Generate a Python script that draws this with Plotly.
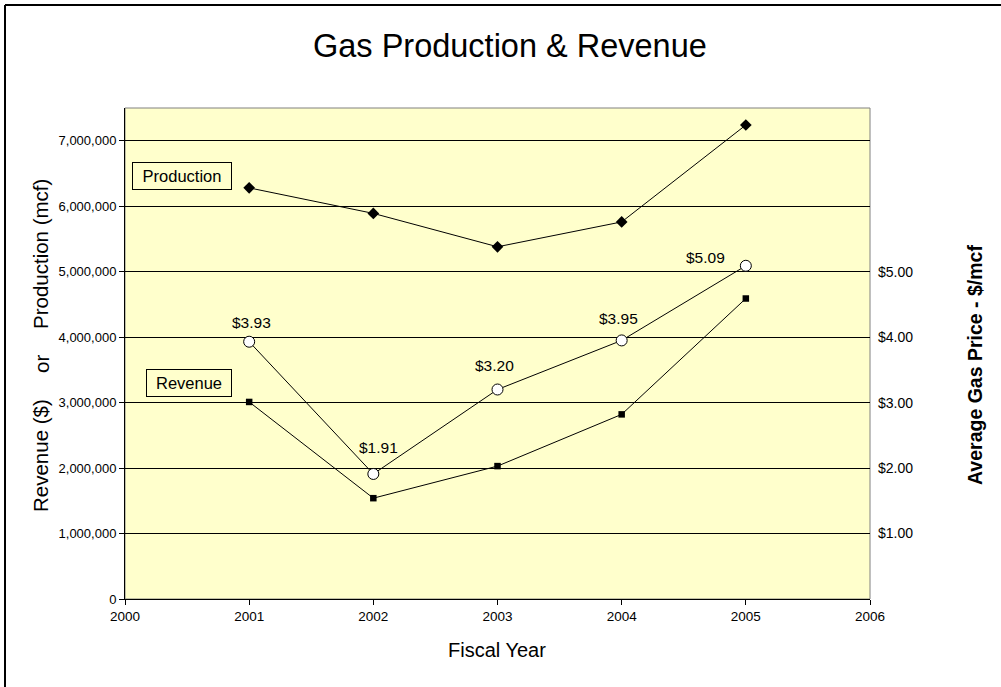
import plotly.graph_objects as go

years = [2001, 2002, 2003, 2004, 2005]
production = [6280000, 5890000, 5380000, 5760000, 7240000]
revenue = [3010000, 1540000, 2030000, 2820000, 4590000]
price = [3.93, 1.91, 3.20, 3.95, 5.09]
price_labels = ["$3.93", "$1.91", "$3.20", "$3.95", "$5.09"]
price_label_shift = [(2, 19), (5, 26), (-3, 24), (-3, 22), (-40, 8)]
right_ticks = [1, 2, 3, 4, 5]
right_tick_text = ["$1.00", "$2.00", "$3.00", "$4.00", "$5.00"]

FONT = "Liberation Sans, Arial, sans-serif"
BG = "#FFFFCC"

W, H = 1001, 687
L, R, T, B = 125, 131, 108, 88
pw, ph = W - L - R, H - T - B


def px(xp):
    return (xp - L) / pw


def py(yp):
    return (H - B - yp) / ph


fig = go.Figure()
fig.add_trace(go.Scatter(x=years, y=production, mode="lines+markers",
                         line=dict(color="black", width=1),
                         marker=dict(symbol="diamond", size=9, color="black"),
                         name="Production", showlegend=False))
fig.add_trace(go.Scatter(x=years, y=revenue, mode="lines+markers",
                         line=dict(color="black", width=1),
                         marker=dict(symbol="square", size=6.5, color="black"),
                         name="Revenue", showlegend=False))
fig.add_trace(go.Scatter(x=years, y=price, mode="lines+markers", yaxis="y2",
                         line=dict(color="black", width=1),
                         marker=dict(symbol="circle", size=11, color="white",
                                     line=dict(color="black", width=1)),
                         name="Price", showlegend=False))

C = dict(xanchor="center", yanchor="middle", showarrow=False)
annotations = []
for x, p, t, (dx, dy) in zip(years, price, price_labels, price_label_shift):
    annotations.append(dict(x=x, y=p, xref="x", yref="y2", text=t, xshift=dx, yshift=dy,
                            font=dict(family=FONT, size=15.5, color="black"), **C))
annotations.append(dict(x=px(181.7), y=py(175.5), xref="paper", yref="paper", text="Production",
                        width=96, height=24, borderpad=1,
                        bgcolor=BG, bordercolor="black", borderwidth=1,
                        font=dict(family=FONT, size=16.5, color="black"), **C))
annotations.append(dict(x=px(189), y=py(383), xref="paper", yref="paper", text="Revenue",
                        width=82, height=24, borderpad=1,
                        bgcolor=BG, bordercolor="black", borderwidth=1,
                        font=dict(family=FONT, size=16.5, color="black"), **C))
# left axis title pieces
for txt, yc in [("Revenue ($)", 456), ("or", 364), ("Production (mcf)", 254)]:
    annotations.append(dict(x=px(41), y=py(yc), xref="paper", yref="paper", text=txt,
                            textangle=-90, font=dict(family=FONT, size=20.5, color="black"), **C))
annotations.append(dict(x=px(975), y=py(365), xref="paper", yref="paper",
                        text="<b>Average Gas Price - $/mcf</b>", textangle=-90,
                        font=dict(family=FONT, size=19.5, color="black"), **C))
annotations.append(dict(x=px(497), y=py(650), xref="paper", yref="paper", text="Fiscal Year",
                        font=dict(family=FONT, size=20, color="black"), **C))
annotations.append(dict(x=px(510), y=py(46), xref="paper", yref="paper",
                        text="Gas Production & Revenue",
                        font=dict(family=FONT, size=32.5, color="black"), **C))

shapes = [
    dict(type="rect", xref="paper", yref="paper", x0=0, y0=0, x1=1, y1=1,
         line=dict(color="#808080", width=1), layer="below", fillcolor=BG),
    dict(type="line", xref="paper", yref="paper", x0=px(5), x1=px(5),
         y0=py(5), y1=py(700), line=dict(color="black", width=2)),
    dict(type="line", xref="paper", yref="paper", x0=px(5), x1=px(1010),
         y0=py(5), y1=py(5), line=dict(color="black", width=2)),
]

fig.update_layout(
    width=W, height=H,
    margin=dict(l=L, r=R, t=T, b=B, pad=0),
    paper_bgcolor="white", plot_bgcolor=BG,
    font=dict(family=FONT, color="black"),
    xaxis=dict(range=[2000, 2006], dtick=1, tick0=2000, showgrid=False, zeroline=False,
               showline=True, linecolor="black", linewidth=1, ticks="outside", ticklen=5,
               tickcolor="black", tickfont=dict(size=13.5)),
    yaxis=dict(range=[0, 7500000], dtick=1000000, tickformat=",d", showgrid=True,
               gridcolor="black", gridwidth=1, zeroline=False, showline=True, linecolor="black",
               linewidth=1, ticks="outside", ticklen=5, tickcolor="black", tickfont=dict(size=13)),
    yaxis2=dict(range=[0, 7.5], overlaying="y", side="right", tickvals=right_ticks,
                ticktext=right_tick_text, showgrid=False, zeroline=False, showline=False,
                ticks="", tickfont=dict(size=14), ticklabelstandoff=7),
    annotations=annotations, shapes=shapes,
)

fig.write_html("out.html", config={"displayModeBar": False},
               post_script="document.body.style.margin='0';")
